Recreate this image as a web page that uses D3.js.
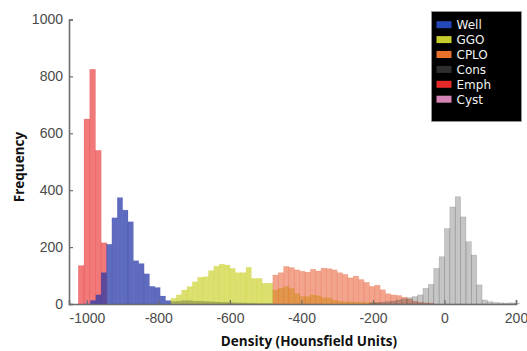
<!DOCTYPE html>
<html>
<head>
<meta charset="utf-8">
<script src="https://cdn.jsdelivr.net/npm/d3@7"></script>
<style>
  body { margin: 0; background: #fff; }
  svg { display: block; }
</style>
</head>
<body>
<div id="chart"></div>
<script>
// histogram counts per class (bins in HU)
const categories = ["Well", "GGO", "CPLO", "Cons", "Emph", "Cyst"];
const xTicks = [-1000, -800, -600, -400, -200, 0, 200];
const yTicks = [0, 200, 400, 600, 800, 1000];

const binWidth = 15;
const emphBinWidth = 16;

const emphStart = -1024;
const emphCounts = [135, 650, 825, 540, 215];

const cystStart = -1008;
const cystCounts = [6, 14, 10, 4];

const wellStart = -990;
const wellCounts = [12, 32, 110, 210, 303, 374, 330, 289, 152, 142, 106, 62, 58, 28, 12,
  9, 10, 12, 12, 10, 10, 9, 8, 7, 6, 6, 5, 4, 4, 3, 3, 2, 2, 2];

const ggoStart = -765;
const ggoCounts = [20, 32, 49, 61, 78, 94, 96, 117, 133, 140, 137, 125, 110, 110, 129, 90, 90, 73, 73,
  49, 55, 61, 55, 37, 26, 26, 32, 29, 22, 22, 14, 10, 8, 8, 7, 6, 5, 4, 3];

const cploStart = -480;
const cploCounts = [102, 110, 132, 128, 120, 115, 112, 122, 116, 126, 124, 120, 110, 104, 92, 98,
  86, 76, 62, 66, 50, 36, 32, 30, 24, 18, 10, 6, 4, 3];

const consStart = -210;
const consCounts = [4, 5, 6, 8, 10, 14, 18, 22, 26, 32, 55, 69, 125, 166, 265, 341, 377, 306, 219,
  172, 67, 14, 8, 5, 4, 3, 4, 3];

const colors = {
  Well: "#2a3aa8",
  GGO: "#c8d020",
  CPLO: "#e85a30",
  Cons: "#404040",
  Emph: "#e82020",
  Cyst: "#d070b0"
};
const alphas = { Well: 0.75, GGO: 0.65, CPLO: 0.55, Cons: 0.3, Emph: 0.6, Cyst: 0.5 };
const legendColors = {
  Well: "#2448b8", GGO: "#c6cc2c", CPLO: "#e8702a", Cons: "#2e2e2e", Emph: "#e42a2a", Cyst: "#d484b4"
};

// draw order: red first so blue sits on top of it
const series = [
  { name: "Emph", start: emphStart, width: emphBinWidth, counts: emphCounts },
  { name: "Cyst", start: cystStart, width: emphBinWidth, counts: cystCounts },
  { name: "Well", start: wellStart, width: binWidth, counts: wellCounts },
  { name: "GGO", start: ggoStart, width: binWidth, counts: ggoCounts },
  { name: "CPLO", start: cploStart, width: binWidth, counts: cploCounts },
  { name: "Cons", start: consStart, width: binWidth, counts: consCounts }
];

const W = 527, H = 351;
const plotLeft = 69, plotRight = 516, plotTop = 19.5, plotBottom = 304;

const svg = d3.select("#chart").append("svg")
  .attr("width", W)
  .attr("height", H);

const x = d3.scaleLinear().domain([-1050, 200]).range([plotLeft, plotRight]);
const y = d3.scaleLinear().domain([0, 1000]).range([plotBottom, plotTop]);

// bars
series.forEach(s => {
  const bins = s.counts.map((c, i) => ({ x0: s.start + i * s.width, x1: s.start + (i + 1) * s.width, c: c }));
  svg.append("g")
    .selectAll("rect")
    .data(bins)
    .enter()
    .append("rect")
    .attr("x", d => x(d.x0))
    .attr("y", d => y(d.c))
    .attr("width", d => x(d.x1) - x(d.x0))
    .attr("height", d => y(0) - y(d.c))
    .attr("fill", colors[s.name])
    .attr("fill-opacity", alphas[s.name])
    .attr("stroke", colors[s.name])
    .attr("stroke-opacity", 0.25)
    .attr("stroke-width", 0.6);
});

// axes
const xAxis = svg.append("g")
  .attr("transform", "translate(0," + plotBottom + ")")
  .call(d3.axisBottom(x).tickValues(xTicks).tickSize(-4).tickPadding(9).tickFormat(d => String(d)));

const yAxis = svg.append("g")
  .attr("transform", "translate(" + plotLeft + ",0)")
  .call(d3.axisLeft(y).tickValues(yTicks).tickSize(-4).tickPadding(6).tickFormat(d => String(d)));

[xAxis, yAxis].forEach(a => {
  a.select(".domain").attr("stroke", "#6e6e6e").attr("stroke-width", 1.6);
  a.selectAll(".tick line").attr("stroke", "#6e6e6e").attr("stroke-width", 1.2);
  a.selectAll(".tick text")
    .attr("fill", "#4a4a4a")
    .style("font-family", "'Liberation Sans', Arial, sans-serif")
    .style("font-size", "14px");
});

// axis labels
svg.append("text")
  .attr("x", 309)
  .attr("y", 346)
  .attr("text-anchor", "middle")
  .style("font-family", "'Open Sans', sans-serif")
  .style("font-weight", "700")
  .style("font-size", "13.5px")
  .attr("fill", "#111")
  .text("Density (Hounsfield Units)");

svg.append("text")
  .attr("transform", "translate(24,167) rotate(-90)")
  .attr("text-anchor", "middle")
  .style("font-family", "'Open Sans', sans-serif")
  .style("font-weight", "700")
  .style("font-size", "13.5px")
  .attr("fill", "#111")
  .text("Frequency");

// legend
const legend = svg.append("g").attr("transform", "translate(431.5,11.5)");
legend.append("rect")
  .attr("width", 90)
  .attr("height", 110)
  .attr("fill", "#000")
  .attr("stroke", "#9a9a9a")
  .attr("stroke-width", 0.8);

const item = legend.selectAll("g.item")
  .data(categories)
  .enter()
  .append("g")
  .attr("class", "item")
  .attr("transform", (d, i) => "translate(5," + (13.2 + i * 14.9) + ")");

item.append("rect")
  .attr("x", 0)
  .attr("y", -3.5)
  .attr("width", 15)
  .attr("height", 7)
  .attr("fill", d => legendColors[d]);

item.append("text")
  .attr("x", 20)
  .attr("dy", "0.36em")
  .attr("fill", "#f2f2f2")
  .style("font-family", "'DejaVu Sans', sans-serif")
  .style("font-size", "12px")
  .text(d => d);
</script>
</body>
</html>
